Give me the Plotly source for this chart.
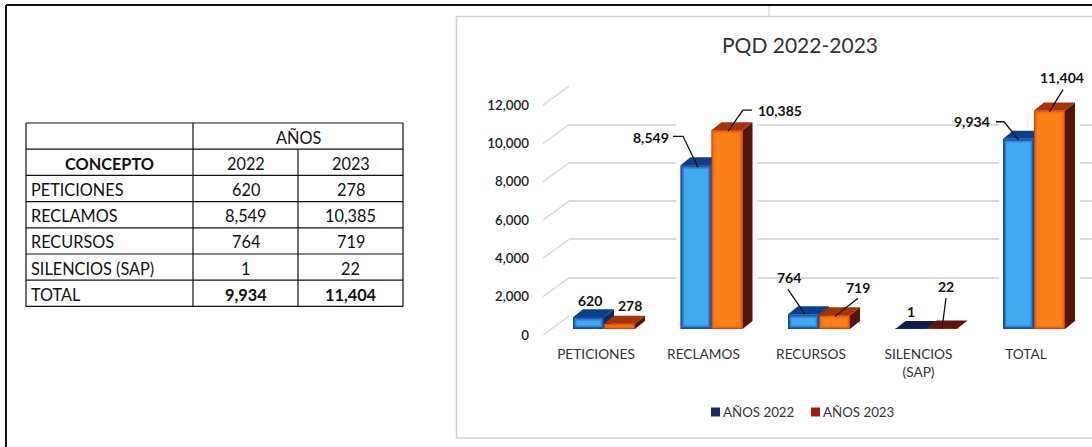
import plotly.graph_objects as go

# ---------- data ----------
categories = ["PETICIONES", "RECLAMOS", "RECURSOS", "SILENCIOS (SAP)", "TOTAL"]
values_2022 = [620, 8549, 764, 1, 9934]
values_2023 = [278, 10385, 719, 22, 11404]
series_names = ["AÑOS 2022", "AÑOS 2023"]
table_years = ["2022", "2023"]
table_group = "AÑOS"
table_concept = "CONCEPTO"
y_ticks = [0, 2000, 4000, 6000, 8000, 10000, 12000]

# ---------- layout / style ----------
W, H = 1092, 447
CAT_PX = 107.5          # pixels per category
VAL_PX = 38.3 / 2000    # pixels per unit
BAR_PX = 31
FRONT = dict(cat0=604, base=329, left=540, right=W, top=40)
AXIS = dict(cat0=596, base=335, left=530, right=W, top=80)
WALL = dict(cat0=622, base=316, left=569, right=W, top=86.2)
DEPTH = (10, 8)         # bar depth in px
SLANT = (26, 19)        # wall depth in px
FONT = "Lato"
INK = "#111111"
GRID = "#dadada"


def xaxis_of(p):
    return dict(domain=[p["left"] / W, p["right"] / W],
                range=[(p["left"] - p["cat0"]) / CAT_PX, (p["right"] - p["cat0"]) / CAT_PX])


def yaxis_of(p):
    return dict(domain=[(H - p["base"]) / H, (H - p["top"]) / H],
                range=[0, (p["base"] - p["top"]) / VAL_PX])


def dx(px):
    return px / CAT_PX


def dy(px):
    return px / VAL_PX


idx = list(range(len(categories)))
bw = dx(BAR_PX)
fig = go.Figure()

# --- wall slants from the axis plane to the back wall
slant_start = (WALL["left"] - SLANT[0] - AXIS["cat0"]) / CAT_PX
for t in y_ticks:
    fig.add_trace(go.Scatter(
        x=[slant_start, slant_start + dx(SLANT[0])], y=[t, t + dy(SLANT[1])], mode="lines",
        line=dict(color=GRID, width=1.5), showlegend=False, hoverinfo="skip", xaxis="x2", yaxis="y2"))

# --- depth faces (below the fronts)
SERIES = [
    dict(values=values_2022, off=-bw, top="#0b3f8c", dark_top="#0c1d50", side="#0a2c66", legend="#12296e",
         layers=[("#1b5cb0", 0.3), ("#2f86d8", 2), ("#43a9ef", 3.5)]),
    dict(values=values_2023, off=0.0, top="#a63505", dark_top="#5a1606", side="#521604", legend="#a81a08",
         layers=[("#e8560e", 0.3), ("#f4700f", 1.5), ("#f97f18", 3)]),
]
ddx, ddy = dx(DEPTH[0]), dy(DEPTH[1])
# white halo that interrupts the gridlines around each bar group
for i, a, b in zip(idx, values_2022, values_2023):
    h = max(a, b) + ddy
    xl, xr = i - bw - dx(4), i + bw + ddx + dx(5)
    fig.add_trace(go.Scatter(
        x=[xl, xr, xr, xl, xl], y=[0, 0, h, h, 0], mode="lines", fill="toself", fillcolor="white",
        line=dict(width=0), showlegend=False, hoverinfo="skip", xaxis="x3", yaxis="y3"))
for s in SERIES:
    for i, v in zip(idx, s["values"]):
        x0, x1 = i + s["off"], i + s["off"] + bw
        fig.add_trace(go.Scatter(
            x=[x1, x1 + ddx, x1 + ddx, x1, x1], y=[0, ddy, v + ddy, v, 0], mode="lines", fill="toself",
            fillcolor=s["side"], line=dict(width=0), showlegend=False, hoverinfo="skip",
            xaxis="x3", yaxis="y3"))
        fig.add_trace(go.Scatter(
            x=[x0, x0 + ddx, x1 + ddx, x1, x0], y=[v, v + ddy, v + ddy, v, v], mode="lines", fill="toself",
            fillcolor=s["dark_top"] if v < 100 else s["top"], line=dict(width=0), showlegend=False,
            hoverinfo="skip", xaxis="x3", yaxis="y3"))

# --- fronts
for s, name in zip(SERIES, series_names):
    fig.add_trace(go.Bar(x=idx, y=s["values"], width=bw, offset=s["off"], name=name,
                         marker=dict(color=s["legend"], line=dict(width=0)), showlegend=False,
                         xaxis="x4", yaxis="y4"))
    for col, inset in s["layers"]:
        fig.add_trace(go.Bar(
            x=idx, y=[max(v - 2 * dy(inset), 0) for v in s["values"]], base=dy(inset),
            width=bw - 2 * dx(inset), offset=s["off"] + dx(inset),
            marker=dict(color=col, line=dict(width=0)), showlegend=False, hoverinfo="skip",
            xaxis="x4", yaxis="y4"))

# --- data labels and leader lines: offsets in px from the bar's top centre
LABELS_2022 = [
    dict(label=(1.5, -17)),
    dict(label=(-45, -28), leader=[(-23, -29), (-13, -29), (2, 2)]),
    dict(label=(-14.5, -37), leader=[(-15.5, -25), (1.5, 0)]),
    dict(label=(0, -17)),
    dict(label=(-46.5, -17), leader=[(-22.5, -17), (-14.5, -17), (0, 1)]),
]
LABELS_2023 = [
    dict(label=(10.5, -18)),
    dict(label=(53, -20), leader=[(25, -20), (16, -20), (1, 1)]),
    dict(label=(23.5, -28), leader=[(23.5, -17), (0.5, 1)]),
    dict(label=(4, -41.6), leader=[(4, -30.6), (0, 0)]),
    dict(label=(12.5, -33), leader=[(13.5, -21), (0, 1)]),
]
annotations = []
for s, specs in zip(SERIES, [LABELS_2022, LABELS_2023]):
    for i, v, spec in zip(idx, s["values"], specs):
        cx = i + s["off"] + bw / 2
        if "leader" in spec:
            fig.add_trace(go.Scatter(
                x=[cx + dx(a) for a, _ in spec["leader"]], y=[v - dy(b) for _, b in spec["leader"]],
                mode="lines", line=dict(color=INK, width=1.3), cliponaxis=False,
                showlegend=False, hoverinfo="skip", xaxis="x4", yaxis="y4"))
        annotations.append(dict(
            x=cx, y=v, xref="x4", yref="y4", text=f"<b>{v:,}</b>", showarrow=False,
            xshift=spec["label"][0], yshift=-spec["label"][1], xanchor="center", yanchor="middle",
            font=dict(family=FONT, size=14, color=INK)))


def text_at(x, y, text, size=16.3, color=INK, anchor="center"):
    return dict(x=x / W, y=1 - y / H, xref="paper", yref="paper", text=text, showarrow=False,
                xanchor=anchor, yanchor="middle", font=dict(family=FONT, size=size, color=color))


def rule(x0, y0, x1, y1, color, width):
    return dict(type="line", xref="paper", yref="paper", x0=x0 / W, x1=x1 / W,
                y0=1 - y0 / H, y1=1 - y1 / H, line=dict(color=color, width=width))


# --- table, drawn from the same arrays
TX = [26, 193, 298, 403]
TY0, ROW = 123, 26.2
rows = len(categories) + 2
TY = [TY0 + r * ROW for r in range(rows + 1)]
total_i = categories.index("TOTAL")
shapes = []
for y in TY:
    shapes.append(rule(TX[0], y, TX[3], y, INK, 1.2))
shapes.append(rule(TX[0], TY[0], TX[0], TY[-1], INK, 1.2))
shapes.append(rule(TX[1], TY[0], TX[1], TY[-1], INK, 1.2))
shapes.append(rule(TX[2], TY[1], TX[2], TY[-1], INK, 1.2))
shapes.append(rule(TX[3], TY[0], TX[3], TY[-1], INK, 1.2))


def row_y(r):
    return TY[r] + ROW / 2 + 1


annotations.append(text_at((TX[1] + TX[3]) / 2, row_y(0), table_group))
annotations.append(text_at((TX[0] + TX[1]) / 2, row_y(1), f"<b>{table_concept}</b>"))
annotations.append(text_at((TX[1] + TX[2]) / 2, row_y(1), table_years[0]))
annotations.append(text_at((TX[2] + TX[3]) / 2, row_y(1), table_years[1]))
for i, (c, a, b) in enumerate(zip(categories, values_2022, values_2023)):
    r = i + 2
    wrap = (lambda t: f"<b>{t}</b>") if i == total_i else (lambda t: t)
    annotations.append(text_at(TX[0] + 3, row_y(r), c, anchor="left"))
    annotations.append(text_at((TX[1] + TX[2]) / 2, row_y(r), wrap(f"{a:,}")))
    annotations.append(text_at((TX[2] + TX[3]) / 2, row_y(r), wrap(f"{b:,}")))

# --- legend (swatch sits right against its text, as in the reference)
LEGEND_SW = [711, 811]
LEGEND_Y = 412
for sx, s, name in zip(LEGEND_SW, SERIES, series_names):
    shapes.append(dict(type="rect", xref="paper", yref="paper", x0=sx / W, x1=(sx + 9) / W,
                       y0=1 - (LEGEND_Y + 4.5) / H, y1=1 - (LEGEND_Y - 4.5) / H,
                       fillcolor=s["legend"], line=dict(width=0)))
    annotations.append(text_at(sx + 10, LEGEND_Y, name, size=13.3, color="#333333", anchor="left"))

# --- page furniture
shapes += [
    rule(6, 5, 6, H, INK, 2),
    rule(6, 5, W, 5, INK, 2),
    rule(769, 6, 769, 16, "#c8c8c8", 1),
    rule(456.5, 16, 456.5, 438, "#d0d0d0", 1.5),
    rule(456.5, 16.5, W, 16.5, "#d0d0d0", 1.5),
    rule(456.5, 438, W, 438, "#d0d0d0", 1.5),
]

tick_font = dict(family=FONT, size=13.7, color="#333333")
fig.update_layout(
    width=W, height=H, margin=dict(l=0, r=0, t=0, b=0, autoexpand=False),
    paper_bgcolor="white", plot_bgcolor="rgba(0,0,0,0)", barmode="overlay", showlegend=False,
    title=dict(text="PQD 2022-2023", x=800 / W, y=1 - 46 / H, xanchor="center", yanchor="middle",
               font=dict(family=FONT, size=21, color="#333333")),
    font=dict(family=FONT),
    # back wall: gridlines
    xaxis=dict(**xaxis_of(WALL), visible=False),
    yaxis=dict(**yaxis_of(WALL), tickvals=y_ticks, showticklabels=False, ticks="",
               showgrid=True, gridcolor=GRID, gridwidth=1.5, zeroline=False, showline=False),
    # axis plane: tick labels
    xaxis2=dict(**xaxis_of(AXIS), anchor="y2", tickmode="array", tickvals=idx,
                ticktext=[c.replace(" (", "<br>(") for c in categories], tickfont=tick_font,
                showgrid=False, zeroline=False, showline=False, ticks="", ticklabelstandoff=9),
    yaxis2=dict(**yaxis_of(AXIS), anchor="x2", tickmode="array", tickvals=y_ticks, tickformat=",d",
                tickfont=dict(family=FONT, size=13.3, color="#222222", weight=600),
                showgrid=False, zeroline=False, showline=False, ticks=""),
    xaxis3=dict(**xaxis_of(FRONT), anchor="y3", visible=False),
    yaxis3=dict(**yaxis_of(FRONT), anchor="x3", visible=False),
    xaxis4=dict(**xaxis_of(FRONT), anchor="y4", visible=False),
    yaxis4=dict(**yaxis_of(FRONT), anchor="x4", visible=False),
    annotations=annotations, shapes=shapes,
)
# keep the wall subplot itself alive so that its gridlines are drawn
fig.add_trace(go.Scatter(x=idx, y=[0] * len(idx), mode="markers", marker=dict(opacity=0),
                         showlegend=False, hoverinfo="skip", xaxis="x", yaxis="y"))
fig.write_html("out.html", config=dict(displayModeBar=False),
               post_script="document.body.style.margin='0';")
